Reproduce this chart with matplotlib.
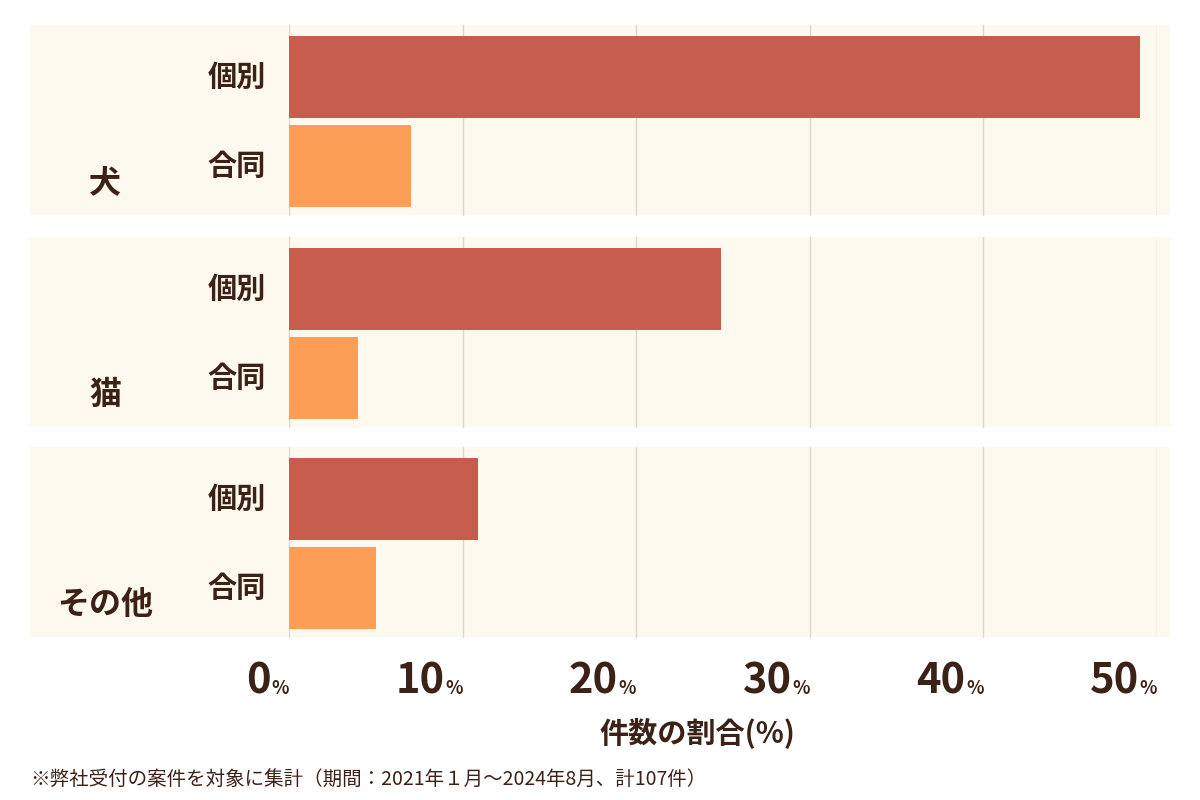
import matplotlib
matplotlib.use("Agg")
import matplotlib.pyplot as plt
from matplotlib.patches import Rectangle

plt.rcParams['font.family'] = ['Noto Sans CJK JP', 'DejaVu Sans']

categories = ["犬", "猫", "その他"]
sub_labels = ["個別", "合同"]
kobetsu = [49.0, 24.9, 10.9]
goudou = [7.0, 4.0, 5.0]
xticks = [0, 10, 20, 30, 40, 50]

TXT = "#3b2116"
fig = plt.figure(figsize=(12, 8), dpi=100)
ax = fig.add_axes([289/1200, 0, (1157-289)/1200, 1])
ax.set_xlim(0, 50)
ax.set_ylim(800, 0)
ax.axis('off')
ppx = 50/(1157-289)  # data units per pixel

group_tops = [25, 237, 447]
for i, top in enumerate(group_tops):
    ax.add_patch(Rectangle((-259*ppx, top), (1170-30)*ppx, 190, facecolor="#fdf9ee",
                           edgecolor='none', clip_on=False, zorder=0))
for t in xticks:
    for top in group_tops:
        ax.plot([t, t], [top, top+190], color="#ddd6cb", lw=1, zorder=1)

for i, top in enumerate(group_tops):
    c1, c2 = top + 52, top + 141
    ax.barh(c1, kobetsu[i], height=82, color="#c65d4f", zorder=2)
    ax.barh(c2, goudou[i], height=82, color="#fc9e56", zorder=2)
    ax.text(-52*ppx, c1, sub_labels[0], ha='center', va='center', fontsize=21, color=TXT, fontweight='bold')
    ax.text(-52*ppx, c2, sub_labels[1], ha='center', va='center', fontsize=21, color=TXT, fontweight='bold')
    ax.text(-184*ppx, top + 158, categories[i], ha='center', va='center', fontsize=23, color=TXT, fontweight='bold')

for t in xticks:
    ax.text(t - 18*ppx, 681, str(t), ha='right', va='center', fontsize=30, color=TXT, fontweight='bold')
    ax.text(t, 688, "%", ha='right', va='center', fontsize=13, color=TXT, fontweight='bold')

ax.text(697*ppx - 289*ppx, 733, "件数の割合(%)", ha='center', va='center', fontsize=21, color=TXT, fontweight='bold')
ax.text(-259*ppx, 779, "※弊社受付の案件を対象に集計（期間：2021年１月～2024年8月、計107件）",
        ha='left', va='center', fontsize=14, color=TXT)

fig.savefig("out.png", dpi=100, facecolor='white')
